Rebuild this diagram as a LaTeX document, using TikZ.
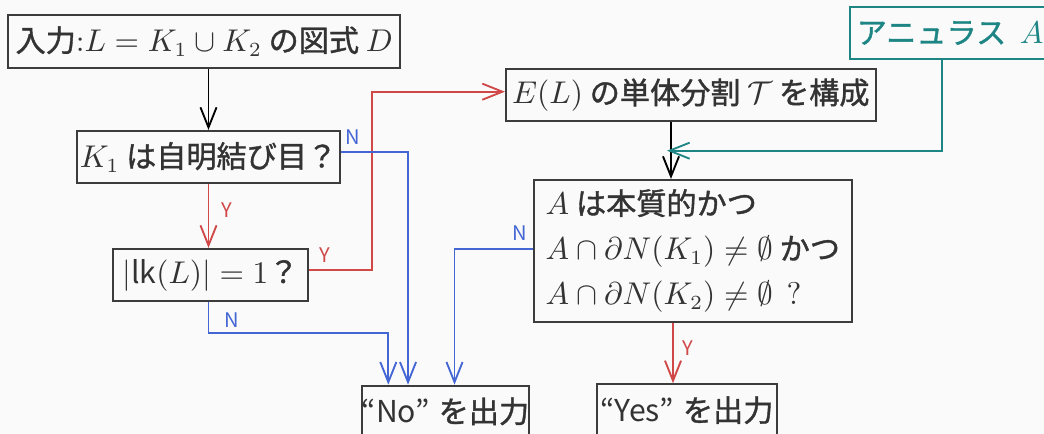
\documentclass[tikz,border=0pt]{standalone}
\usepackage{fontspec}
\setmainfont{Noto Sans CJK JP}[FakeBold=1.2]
\newfontfamily\lat{Noto Sans CJK JP}
\usetikzlibrary{arrows.meta}
\definecolor{bgc}{HTML}{FAFAFA}
\definecolor{boxc}{HTML}{3C3C3C}
\definecolor{txtc}{HTML}{333333}
\definecolor{yc}{HTML}{D04848}
\definecolor{nc}{HTML}{4466D4}
\definecolor{tc}{HTML}{1E8585}
\begin{document}
\begin{tikzpicture}[x=0.3484pt,y=-0.3484pt,
  box/.style={draw=boxc, line width=0.75pt, text=txtc, inner sep=0pt, font=\fontsize{10.5}{12}\selectfont},
  bx/.style 2 args={minimum width=#1*0.3484pt, minimum height=#2*0.3484pt},
  arr/.style={-{Straight Barb[length=7pt,width=5.6pt]}, line width=0.65pt},
  lab/.style={font=\lat\fontsize{7}{8}\selectfont, inner sep=0pt}]
\fill[bgc] (0,0) rectangle (1044,434);
\useasboundingbox (0,0) rectangle (1044,434);
% boxes
\node[box, bx={391.7}{52.7}] (in) at (204.15,41.35) {入力$\mathord{:}L = K_1\cup K_2$ の図式 $D$};
\node[box, bx={263}{52.3}] (k1) at (208.5,157.15) {$K_1$ は自明結び目？};
\node[box, bx={194.4}{52}] (lk) at (210.5,275) {$|\mbox{\lat lk}(L)| = 1$？};
\node[box, bx={369.7}{51.7}] (el) at (690.85,95.15) {$E(L)$ の単体分割 $\mathcal{T}$ を構成};
\node[box, draw=tc, text=tc, bx={200}{52.6}] (ann) at (950,33) {アニュラス\hspace{0.45em}$A$};
\node[box, bx={317.7}{141.7}, align=left, font=\fontsize{10.5}{15.7}\selectfont] (ac) at (692.85,250.85)
  {$A$ は本質的かつ\\ $A\cap\partial N(K_1)\neq\emptyset$ かつ\\ $A\cap\partial N(K_2)\neq\emptyset$\hspace{0.45em}$?$};
\node[box, bx={167.6}{51.3}] (no) at (445.5,411.35) {{\lat “No”}\hspace{0.3em}を出力};
\node[box, bx={180}{51.7}] (yes) at (686.7,410.15) {{\lat “Yes”}\hspace{0.3em}を出力};
% helper coordinates
\coordinate (ea) at (671,0);
\coordinate (ya) at (673,0);
\coordinate (tx) at (942,0);
\coordinate (tt) at (667,150.7);
\coordinate (rx) at (372,91.7);
\coordinate (n1) at (388.3,333.3);
\coordinate (n2) at (408,0);
\coordinate (n3) at (454.5,0);
% connectors
\draw[arr] (in.south -| k1.north) -- (k1.north);
\draw[arr, yc] (k1.south) -- (k1.south |- lk.north);
\draw[arr, yc] ([yshift=1.74pt]lk.east) -| (rx) -- (rx -| el.west);
\draw[arr, nc] ([yshift=1.84pt]k1.east) -| (n2 |- no.north);
\draw[arr, nc] (k1.south |- lk.south) |- (n1) -- (n1 |- no.north);
\draw[arr, nc] ([yshift=0.6pt]ac.west) -| (n3 |- no.north);
\draw[arr] (el.south -| ea) -- (ac.north -| ea);
\draw[arr, tc] (ann.south -| tx) |- (tt);
\draw[arr, yc] (ac.south -| ya) -- (yes.north -| ya);
% labels
\node[lab, text=nc] at (353,137) {N};
\node[lab, text=yc] at (227,210) {Y};
\node[lab, text=yc] at (325,255) {Y};
\node[lab, text=nc] at (232,320) {N};
\node[lab, text=nc] at (520,233) {N};
\node[lab, text=yc] at (688,348) {Y};
\end{tikzpicture}
\end{document}
